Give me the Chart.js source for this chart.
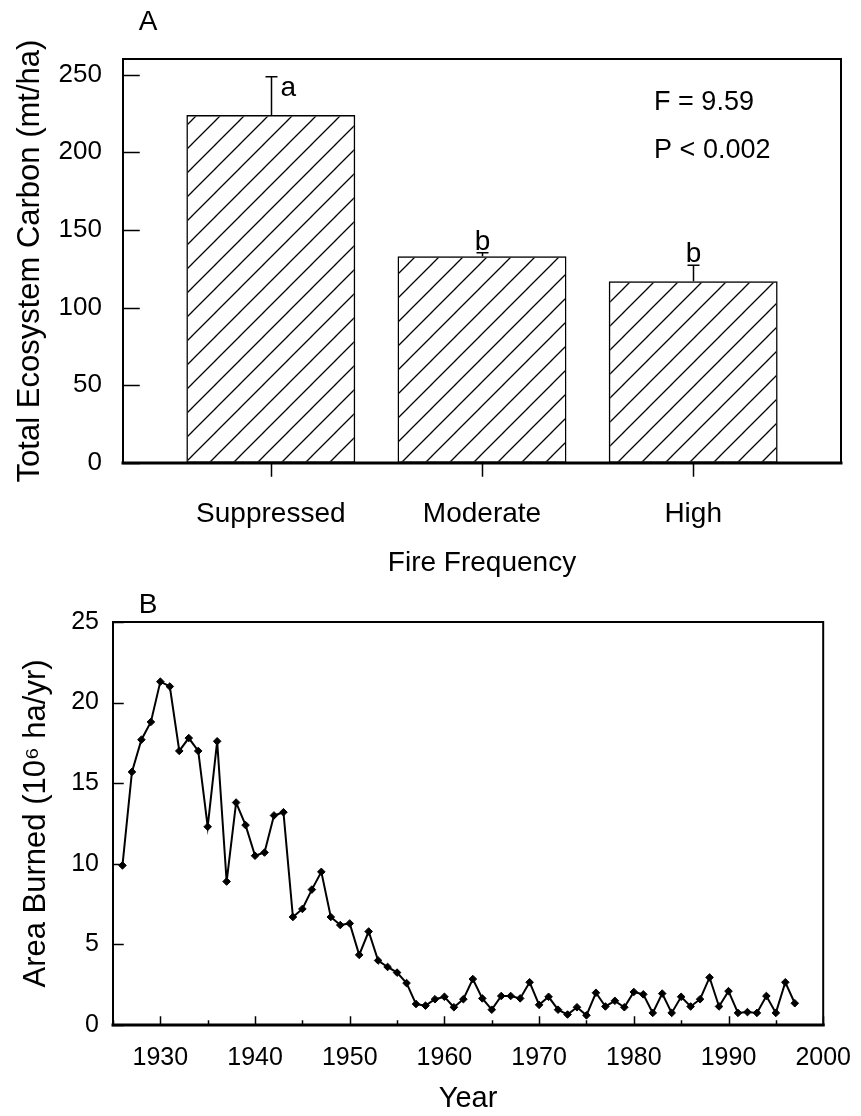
<!DOCTYPE html>
<html>
<head>
<meta charset="utf-8">
<script src="https://cdn.jsdelivr.net/npm/chart.js@4.4.1/dist/chart.umd.min.js"></script>
<style>
  html, body { margin: 0; padding: 0; background: #fff; }
  #page { position: relative; width: 861px; height: 1116px; }
  .panel { position: absolute; left: 0; width: 861px; }
  #wrapA { top: 0; height: 580px; }
  #wrapB { top: 580px; height: 536px; }
</style>
</head>
<body>
<div id="page">
  <div class="panel" id="wrapA"><canvas id="carbonChart"></canvas></div>
  <div class="panel" id="wrapB"><canvas id="burnChart"></canvas></div>
</div>
<script>
// Panel A: total ecosystem carbon by fire frequency
const categories = ['Suppressed', 'Moderate', 'High'];
const carbon = [224, 133, 117];
const carbonSE = [24.5, 2.3, 10.3];
const sigLetters = ['a', 'b', 'b'];
const carbonTicks = [0, 50, 100, 150, 200, 250];

// Panel B: area burned per year
const years = [
  1926, 1927, 1928, 1929, 1930, 1931, 1932, 1933, 1934, 1935,
  1936, 1937, 1938, 1939, 1940, 1941, 1942, 1943, 1944, 1945,
  1946, 1947, 1948, 1949, 1950, 1951, 1952, 1953, 1954, 1955,
  1956, 1957, 1958, 1959, 1960, 1961, 1962, 1963, 1964, 1965,
  1966, 1967, 1968, 1969, 1970, 1971, 1972, 1973, 1974, 1975,
  1976, 1977, 1978, 1979, 1980, 1981, 1982, 1983, 1984, 1985,
  1986, 1987, 1988, 1989, 1990, 1991, 1992, 1993, 1994, 1995,
  1996, 1997
];
const areaBurned = [
  9.9, 15.7, 17.7, 18.8, 21.3, 21.0, 17.0, 17.8, 17.0, 12.3,
  17.6, 8.9, 13.8, 12.4, 10.5, 10.7, 13.0, 13.2, 6.7, 7.2,
  8.4, 9.5, 6.7, 6.2, 6.3, 4.35, 5.8, 4.0, 3.6, 3.25,
  2.6, 1.3, 1.2, 1.6, 1.75, 1.1, 1.6, 2.85, 1.65, 0.95,
  1.8, 1.8, 1.65, 2.65, 1.25, 1.75, 0.95, 0.65, 1.1, 0.6,
  2.0, 1.15, 1.5, 1.1, 2.05, 1.9, 0.75, 1.95, 0.75, 1.75,
  1.15, 1.6, 2.95, 1.15, 2.1, 0.75, 0.8, 0.75, 1.8, 0.75,
  2.65, 1.35
];
const yearTicks = [1925, 1930, 1935, 1940, 1945, 1950, 1955, 1960, 1965,
                   1970, 1975, 1980, 1985, 1990, 1995, 2000];
const burnTicks = [0, 5, 10, 15, 20, 25];

const FONT = '"Liberation Sans", Arial, Helvetica, sans-serif';
Chart.defaults.font.family = FONT;
Chart.defaults.color = '#000';

// diagonal "/" hatch for the bars
function hatchPattern(step) {
    const c = document.createElement('canvas');
    c.width = step;
    c.height = step;
    const g = c.getContext('2d');
    g.strokeStyle = '#000';
    g.lineWidth = 1.3;
    g.beginPath();
    g.moveTo(0, step); g.lineTo(step, 0);
    g.moveTo(-step / 2, step / 2); g.lineTo(step / 2, -step / 2);
    g.moveTo(step / 2, step * 1.5); g.lineTo(step * 1.5, step / 2);
    g.stroke();
    return g.createPattern(c, 'repeat');
}

// box around the plot area plus short tick marks
const framePlugin = {
    id: 'frame',
    afterDraw(chart, args, opts) {
        const {ctx, chartArea: a, scales: {x, y}} = chart;
        ctx.save();
        ctx.strokeStyle = '#000';
        ctx.lineCap = 'square';

        ctx.lineWidth = 1.5;
        ctx.beginPath();
        y.ticks.forEach(t => {
            const py = Math.round(y.getPixelForValue(t.value)) + 0.5;
            ctx.moveTo(a.left, py);
            ctx.lineTo(a.left + opts.yTick, py);
        });
        x.ticks.forEach(t => {
            const px = Math.round(x.getPixelForValue(t.value)) + 0.5;
            const major = opts.xMinorEvery ? t.value % opts.xMinorEvery === 0 : true;
            const len = major ? opts.xTick : opts.xMinor;
            ctx.moveTo(px, a.bottom);
            ctx.lineTo(px, a.bottom + (opts.xInward ? -len : len));
        });
        ctx.stroke();

        ctx.lineWidth = opts.lineWidth;
        ctx.strokeRect(a.left, a.top, a.right - a.left, a.bottom - a.top);
        ctx.lineWidth = opts.lineWidth + 1;
        ctx.beginPath();
        ctx.moveTo(a.left, a.bottom);
        ctx.lineTo(a.right, a.bottom);
        ctx.stroke();

        ctx.font = '28px ' + FONT;
        ctx.fillStyle = '#000';
        ctx.textAlign = 'center';
        ctx.textBaseline = 'middle';
        ctx.fillText(opts.panel, opts.panelX, opts.panelY);
        ctx.restore();
    }
};

// error bars, significance letters and the F / P statistics
const barNotesPlugin = {
    id: 'barNotes',
    afterDatasetsDraw(chart) {
        const {ctx, scales: {x, y}} = chart;
        const meta = chart.getDatasetMeta(0);
        ctx.save();
        ctx.strokeStyle = '#000';
        ctx.fillStyle = '#000';
        ctx.lineWidth = 1.5;
        meta.data.forEach((bar, i) => {
            const px = Math.round(bar.x) + 0.5;
            const yBar = y.getPixelForValue(carbon[i]);
            const yTop = y.getPixelForValue(carbon[i] + carbonSE[i]);
            ctx.beginPath();
            ctx.moveTo(px, yBar);
            ctx.lineTo(px, yTop);
            ctx.moveTo(px - 6, yTop);
            ctx.lineTo(px + 6, yTop);
            ctx.stroke();

            ctx.font = '28px ' + FONT;
            ctx.textBaseline = 'alphabetic';
            if (i === 0) {
                ctx.textAlign = 'left';
                ctx.fillText(sigLetters[i], px + 9, yTop + 19);
            } else {
                ctx.textAlign = 'center';
                ctx.fillText(sigLetters[i], px, yTop - 3);
            }
        });

        ctx.font = '27px ' + FONT;
        ctx.textAlign = 'left';
        ctx.textBaseline = 'middle';
        ctx.fillText('F = 9.59', x.getPixelForValue(2.815), y.getPixelForValue(232));
        ctx.fillText('P < 0.002', x.getPixelForValue(2.815), y.getPixelForValue(201));
        ctx.restore();
    }
};

const carbonChart = new Chart(document.getElementById('carbonChart'), {
    type: 'bar',
    data: {
        datasets: [{
            data: categories.map((c, i) => ({x: i + 1, y: carbon[i]})),
            backgroundColor: hatchPattern(24),
            borderColor: '#000',
            borderWidth: 1.5,
            borderSkipped: false,
            categoryPercentage: 1,
            barPercentage: 0.8
        }]
    },
    options: {
        responsive: true,
        maintainAspectRatio: false,
        animation: false,
        layout: {padding: {top: 59, right: 20, left: 0, bottom: 0}},
        plugins: {
            legend: {display: false},
            tooltip: {enabled: false},
            frame: {lineWidth: 2, yTick: 16, xTick: 13, xInward: false,
                    panel: 'A', panelX: 148, panelY: 22}
        },
        scales: {
            x: {
                type: 'linear',
                offset: false,
                min: 0.3,
                max: 3.7,
                grid: {display: false, offset: false},
                border: {display: false},
                afterBuildTicks: s => { s.ticks = categories.map((c, i) => ({value: i + 1})); },
                afterFit: s => { s.height = 117; },
                ticks: {
                    autoSkip: false,
                    maxRotation: 0,
                    padding: 26,
                    font: {size: 28},
                    callback: v => categories[v - 1]
                },
                title: {display: true, text: 'Fire Frequency', font: {size: 28}, padding: 0}
            },
            y: {
                min: 0,
                max: 260,
                grid: {display: false},
                border: {display: false},
                afterBuildTicks: s => { s.ticks = carbonTicks.map(v => ({value: v})); },
                afterFit: s => { s.width = 123; },
                ticks: {padding: 13, font: {size: 26}},
                title: {display: true, text: 'Total Ecosystem Carbon (mt/ha)',
                        font: {size: 31}, padding: {top: 12, bottom: 0}}
            }
        }
    },
    plugins: [framePlugin, barNotesPlugin]
});

const burnChart = new Chart(document.getElementById('burnChart'), {
    type: 'line',
    data: {
        datasets: [{
            data: years.map((yr, i) => ({x: yr, y: areaBurned[i]})),
            borderColor: '#000',
            borderWidth: 2,
            tension: 0,
            pointStyle: 'rectRot',
            pointRadius: 3.8,
            pointBackgroundColor: '#000',
            pointBorderColor: '#000',
            pointBorderWidth: 1
        }]
    },
    options: {
        responsive: true,
        maintainAspectRatio: false,
        animation: false,
        layout: {padding: {top: 42, right: 29, left: 0, bottom: 0}},
        plugins: {
            legend: {display: false},
            tooltip: {enabled: false},
            frame: {lineWidth: 2, yTick: 10, xTick: 8, xMinor: 4, xMinorEvery: 10,
                    xInward: true, panel: 'B', panelX: 148, panelY: 25}
        },
        scales: {
            x: {
                type: 'linear',
                min: 1925,
                max: 2000,
                grid: {display: false},
                border: {display: false},
                afterBuildTicks: s => { s.ticks = yearTicks.map(v => ({value: v})); },
                afterFit: s => { s.height = 91; },
                ticks: {
                    autoSkip: false,
                    maxRotation: 0,
                    padding: 10,
                    font: {size: 25},
                    callback: v => (v % 10 === 0 ? String(v) : '')
                },
                title: {display: true, text: 'Year', font: {size: 29}, padding: 0}
            },
            y: {
                min: 0,
                max: 25,
                grid: {display: false},
                border: {display: false},
                afterBuildTicks: s => { s.ticks = burnTicks.map(v => ({value: v})); },
                afterFit: s => { s.width = 113; },
                ticks: {padding: 6, font: {size: 25}},
                title: {display: true, text: 'Area Burned (10\u2076 ha/yr)',
                        font: {size: 31}, padding: {top: 18, bottom: 0}}
            }
        }
    },
    plugins: [framePlugin]
});
</script>
</body>
</html>
